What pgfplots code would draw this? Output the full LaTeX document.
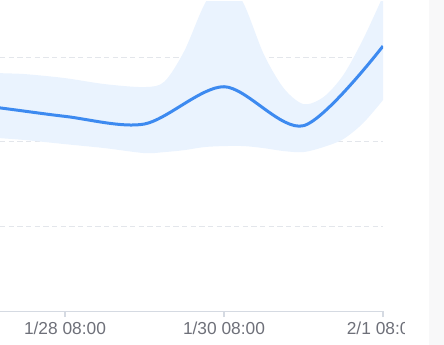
\documentclass[border=0pt]{standalone}
\usepackage{fontspec}
\setmainfont{Liberation Sans}
\usepackage{pgfplots}
\pgfplotsset{compat=1.18}
\usepgfplotslibrary{fillbetween}
\definecolor{linec}{HTML}{3D8AF0}
\definecolor{bandc}{HTML}{EAF3FE}
\definecolor{gridc}{HTML}{E3E6EB}
\definecolor{axisc}{HTML}{D5DAE2}
\definecolor{labc}{HTML}{6E7079}
\definecolor{panelc}{HTML}{F8F8F9}
\begin{document}
\begin{tikzpicture}[x=0.75pt,y=0.75pt]
\begin{axis}[
  at={(0,40)}, anchor=south west,
  scale only axis, width=287.25pt, height=232.5pt,
  xmin=-0.8176, xmax=4, ymin=0, ymax=3.661,
  axis lines*=left,
  y axis line style={draw=none},
  x axis line style={draw=axisc, line width=0.8pt},
  ytick={1,2,3}, yticklabels={}, ytick style={draw=none},
  ymajorgrids, grid style={draw=gridc, line width=0.8pt, dash pattern=on 4pt off 2.5pt},
  xtick={0,2,4}, xticklabels={1/28 08:00,1/30 08:00,2/1 08:00},
  tick align=outside, major tick length=4.5pt,
  xtick style={draw=axisc, line width=0.8pt},
  xticklabel style={font=\fontsize{13}{15}\selectfont, text=labc},
  clip=true,
]
\addplot[draw=none, smooth, name path=up] coordinates {
 (-1,2.83) (-0.818,2.811) (-0.5,2.799) (0,2.752) (0.5,2.681) (1,2.646)
 (1.25,2.71) (1.5,3.071) (1.75,3.614) (2,3.957) (2.25,3.626) (2.5,3.035)
 (2.75,2.634) (3,2.445) (3.25,2.527) (3.5,2.787) (3.75,3.212) (4,3.720)};
\addplot[draw=none, smooth, name path=lo] coordinates {
 (-1,2.06) (-0.818,2.043) (-0.5,2.020) (0,1.972) (0.5,1.925) (1,1.866)
 (1.25,1.878) (1.5,1.901) (1.75,1.937) (2,1.949) (2.25,1.949) (2.5,1.925)
 (2.75,1.890) (3,1.878) (3.25,1.937) (3.5,2.031) (3.75,2.220) (4,2.492)};
\addplot[fill=bandc, draw=none] fill between[of=up and lo];
\addplot[linec, line width=2.25pt, smooth] coordinates {
 (-2,2.50) (-1,2.42) (0,2.30) (1,2.21) (2,2.65) (3,2.19) (4,3.13)};
\end{axis}
\fill[white] (405,0) rectangle (429,40);
\fill[panelc] (429,0) rectangle (444,345);
\pgfresetboundingbox
\path[use as bounding box] (0,0) rectangle (444,345);
\end{tikzpicture}
\end{document}
